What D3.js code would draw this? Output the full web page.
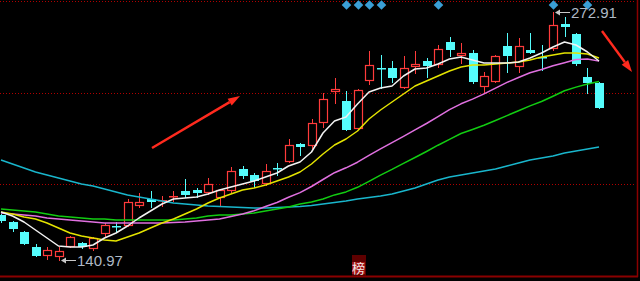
<!DOCTYPE html>
<html><head><meta charset="utf-8">
<script src="https://cdn.jsdelivr.net/npm/d3@7"></script>
<style>html,body{margin:0;padding:0;background:#000;overflow:hidden}svg{display:block}</style>
</head><body><svg id="c" width="640" height="281"></svg>
<script>
// ---- data ----
const open  = [164.91,161.19,155.87,147.89,143.63,143.10,148.42,150.01,147.35,155.33,159.06,159.59,170.23,173.16,172.36,174.49,177.68,178.21,177.15,174.49,178.21,189.38,186.19,181.93,190.18,193.64,202.42,202.15,214.39,230.88,225.56,211.19,236.73,243.38,243.11,233.01,244.44,246.84,245.24,256.95,250.03,251.09,233.54,236.20,254.82,244.18,252.69,248.97,253.75,266.26,261.20,238.33,235.13];
const high  = [165.44,161.72,156.40,149.48,147.89,147.89,153.74,150.55,153.21,160.65,161.19,173.42,176.61,177.68,175.02,177.68,184.06,179.27,184.59,178.74,190.45,190.98,187.25,192.04,192.57,205.34,203.21,215.98,229.81,237.79,230.88,231.94,252.16,250.03,246.84,249.50,252.16,248.43,255.35,259.61,256.41,252.69,240.99,250.03,261.73,259.07,261.73,255.35,272.91,270.25,261.73,243.11,235.67];
const low   = [161.19,156.40,149.48,143.10,141.50,140.97,147.89,147.35,146.29,153.74,155.87,159.06,169.17,169.17,169.70,172.36,174.49,174.49,176.08,169.70,177.15,184.59,179.81,180.87,186.19,193.11,196.83,200.55,211.73,224.49,210.13,210.66,234.60,232.47,235.67,232.47,240.45,238.33,243.65,249.50,245.77,235.13,229.81,235.67,240.99,240.99,251.09,242.05,252.69,260.14,244.71,229.81,221.83];
const close = [162.25,157.99,150.01,143.63,146.29,145.76,153.21,148.42,152.67,159.59,158.53,171.83,171.83,172.62,172.89,175.28,176.08,177.41,181.40,178.21,188.32,186.19,183.53,188.32,189.38,202.15,201.62,213.85,226.62,232.21,210.66,231.41,244.71,242.58,238.33,243.11,244.98,244.71,253.22,253.22,251.09,236.20,238.86,249.50,250.03,254.82,251.89,248.43,265.99,265.46,245.77,235.67,222.37];
const ma5   = [166.51,164.38,161.19,156.93,152.67,148.42,147.89,147.89,148.95,152.67,155.33,159.06,163.31,167.04,170.76,173.42,173.95,174.49,176.08,178.21,179.81,181.40,183.00,185.13,187.25,190.98,193.11,198.43,208.53,214.92,217.05,223.96,230.35,232.47,233.54,238.86,242.58,243.11,245.24,247.90,248.97,247.37,245.77,245.77,245.77,246.31,248.43,251.09,254.29,256.95,255.35,251.63,246.84];
const ma10  = [166.51,165.44,163.85,162.78,160.65,157.99,155.33,153.74,152.67,151.61,151.08,153.21,155.33,157.99,160.65,162.78,165.44,168.10,171.29,173.95,176.08,178.21,179.27,180.87,183.00,185.13,187.79,192.04,197.36,202.15,205.34,209.60,215.98,220.77,225.03,229.28,233.54,236.20,238.86,241.52,243.65,244.71,244.71,245.24,245.77,246.31,247.37,248.97,250.03,251.09,251.09,250.56,248.43];
const ma20  = [165.97,165.44,164.91,164.38,163.31,162.78,162.25,161.72,161.19,160.65,160.65,160.65,160.65,160.65,160.65,160.92,161.19,161.72,162.25,162.78,164.11,165.44,167.20,169.43,171.56,174.38,176.83,180.07,183.80,187.41,190.02,193.00,196.62,200.13,203.43,206.78,210.24,213.59,217.21,220.93,224.07,226.57,229.34,232.42,235.45,238.06,240.61,242.32,244.28,245.93,247.69,247.90,246.78];
const ma30  = [168.10,167.57,167.04,166.51,165.44,164.38,163.85,163.31,162.78,162.78,162.25,162.25,162.25,162.25,162.25,162.25,162.78,163.31,164.38,164.91,164.91,165.44,165.97,167.04,168.10,169.17,170.76,171.83,173.42,175.60,177.20,179.65,182.84,186.14,189.17,192.41,195.50,198.69,202.04,205.18,208.27,210.40,212.63,215.18,217.79,220.40,222.95,225.29,228.11,231.04,232.95,234.60,235.88];
const maLong= [194.17,192.04,189.91,187.79,186.19,184.59,183.00,181.40,180.34,178.74,177.15,175.55,174.49,173.42,172.36,171.29,170.76,170.23,169.70,169.43,169.17,168.90,168.63,168.63,168.90,169.17,169.43,169.96,170.76,171.56,172.36,173.42,174.22,175.02,176.08,177.68,179.27,181.40,183.53,185.13,186.19,187.25,188.32,189.38,190.98,192.57,194.17,195.23,196.30,197.89,198.96,200.02,201.09];
const signalDays = [30,31,32,33,38,48,51];
const maxLabel = "272.91", minLabel = "140.97";
const maxDay = 48, minDay = 5;
const rankDay = 31, rankText = "榜";
// annotation arrows: [startDay, startPrice, endDay, endPrice]
const arrows = [[13.13,200.55,20.78,228.22],[52.26,262.80,54.87,240.99]];

// ---- scales ----
const svg = d3.select('#c');
const W = 640, H = 281;
const x = d3.scaleLinear().domain([0, open.length-1]).range([1, 599]);
const y = d3.scaleLinear().domain([140.97, 272.91]).range([260, 12]);
const RED = '#ff3b3b', CYAN = '#55fcfc';

svg.append('rect').attr('width',W).attr('height',H).attr('fill','#000');

// grid (top, 1/3, 2/3)
const gridTop = 1, gridBot = 276;
[0,1,2].forEach(k=>{
  const gy = Math.round(gridTop + (gridBot-gridTop)*k/3) + 0.5;
  svg.append('line').attr('x1',0).attr('x2',636).attr('y1',gy).attr('y2',gy)
    .attr('stroke','#b00000').attr('stroke-width',1).attr('stroke-dasharray','1,2');
});
svg.append('line').attr('x1',0).attr('x2',638).attr('y1',276.5).attr('y2',276.5)
  .attr('stroke','#8a0000').attr('stroke-width',2);
svg.append('line').attr('x1',637.5).attr('x2',637.5).attr('y1',0).attr('y2',277)
  .attr('stroke','#8a0000').attr('stroke-width',1.5);

// candles
const cg = svg.append('g');
open.forEach((o,i)=>{
  const c = close[i], hi = high[i], lo = low[i];
  const up = c >= o;
  const col = up ? RED : CYAN;
  const L = Math.round(x(i)) - 4;
  const wx = L + 4.5;
  const yT = Math.round(y(Math.max(o,c))), yB = Math.round(y(Math.min(o,c)));
  const yH = Math.round(y(hi)), yL = Math.round(y(lo));
  const bh = yB - yT;
  if (bh < 2) {
    cg.append('line').attr('x1',wx).attr('x2',wx).attr('y1',yH).attr('y2',yL+1).attr('stroke',col);
    cg.append('rect').attr('x',L).attr('y',yT).attr('width',9).attr('height',1.5).attr('fill',col);
  } else if (up) {
    if (yH < yT) cg.append('line').attr('x1',wx).attr('x2',wx).attr('y1',yH).attr('y2',yT).attr('stroke',col);
    if (yL > yB) cg.append('line').attr('x1',wx).attr('x2',wx).attr('y1',yB).attr('y2',yL+1).attr('stroke',col);
    cg.append('rect').attr('x',L+0.5).attr('y',yT+0.5).attr('width',8).attr('height',bh)
      .attr('fill','#000').attr('stroke',col).attr('stroke-width',1.2);
  } else {
    cg.append('line').attr('x1',wx).attr('x2',wx).attr('y1',yH).attr('y2',yL+1).attr('stroke',col);
    cg.append('rect').attr('x',L).attr('y',yT).attr('width',9).attr('height',bh+1).attr('fill',col);
  }
});

// moving averages
const line = d3.line().x((d,i)=>x(i)).y(d=>y(d));
[[maLong,'#19b6cc'],[ma30,'#12cc12'],[ma20,'#e070e0'],[ma10,'#e4e400'],[ma5,'#f2f2f2']].forEach(([arr,col])=>{
  svg.append('path').datum(arr).attr('d',line).attr('fill','none')
    .attr('stroke',col).attr('stroke-width',1.5).attr('stroke-linejoin','round');
});

// signal diamonds
signalDays.forEach(d=>{
  svg.append('path').attr('d', d3.symbol(d3.symbolSquare, 46)())
    .attr('transform',`translate(${Math.round(x(d))+0.5},5) rotate(45)`).attr('fill','#3a9fd6');
});

// high / low labels
function label(day, price, txt, dy){
  const px = Math.round(x(day)) + 2, py = Math.round(y(price)) + 0.5;
  const g = svg.append('g');
  g.append('line').attr('x1',px+3).attr('x2',px+15).attr('y1',py).attr('y2',py).attr('stroke','#c8c8c8').attr('stroke-width',1);
  g.append('path').attr('d',`M${px},${py} L${px+5},${py-3} L${px+5},${py+3} Z`).attr('fill','#c8c8c8');
  g.append('text').attr('x',px+16).attr('y',py+dy).text(txt)
    .attr('font-family','Liberation Sans, Arial, sans-serif').attr('font-size',15).attr('fill','#aeb9c6');
}
label(maxDay, high[maxDay], maxLabel, 5.5);
label(minDay, low[minDay], minLabel, 5.5);

// rank box
const rx = Math.round(x(rankDay));
svg.append('rect').attr('x',rx-6).attr('y',255).attr('width',14).attr('height',21).attr('fill','#5e0000');
svg.append('rect').attr('x',rx-6).attr('y',262).attr('width',13).attr('height',12).attr('fill','#a01414');
svg.append('text').attr('x',rx+0.5).attr('y',273).attr('text-anchor','middle').text(rankText)
  .attr('font-family','Noto Sans CJK SC, sans-serif').attr('font-size',13).attr('fill','#f4e6e6');

// red annotation arrows
arrows.forEach(([d0,p0,d1,p1])=>{
  const x0=x(d0), y0=y(p0), x1=x(d1), y1=y(p1);
  const ang = Math.atan2(y1-y0, x1-x0);
  const hl = 12, hw = 4;
  const bx = x1 - hl*Math.cos(ang), by = y1 - hl*Math.sin(ang);
  svg.append('line').attr('x1',x0).attr('y1',y0).attr('x2',bx).attr('y2',by)
    .attr('stroke','#ff2a1e').attr('stroke-width',2.4);
  const nx = -Math.sin(ang)*hw, ny = Math.cos(ang)*hw;
  svg.append('path').attr('d',`M${x1},${y1} L${bx+nx},${by+ny} L${bx-nx},${by-ny} Z`).attr('fill','#ff2a1e');
});
</script></body></html>
